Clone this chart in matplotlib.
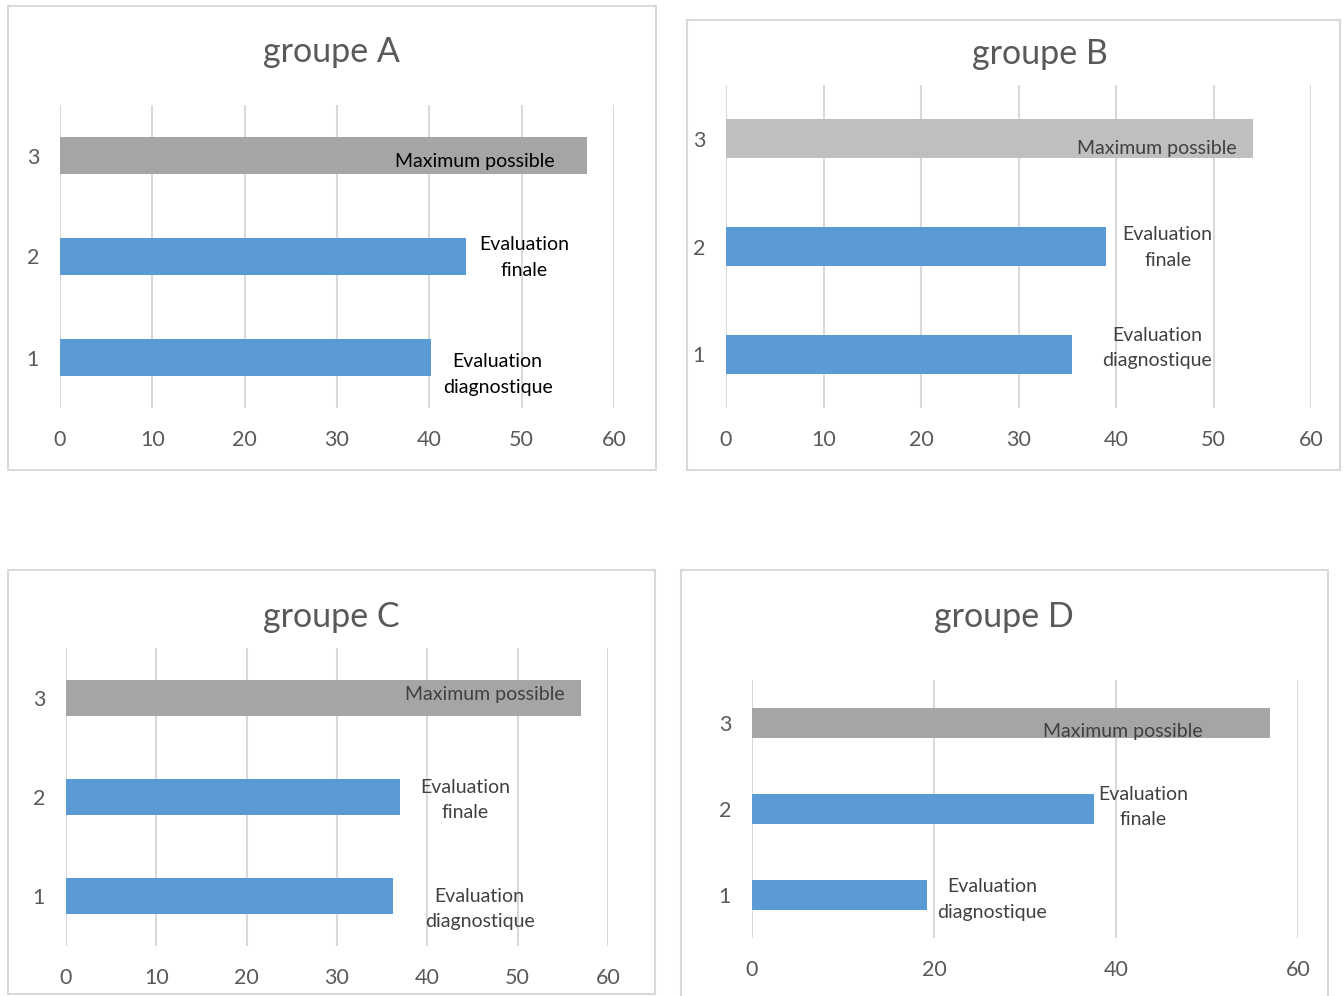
import matplotlib
matplotlib.use("Agg")
import matplotlib.pyplot as plt
from matplotlib.patches import Rectangle

plt.rcParams['font.family'] = ['Lato', 'DejaVu Sans']

W, H = 1344, 996

# data
categories = [1, 2, 3]
labels = ["Evaluation\ndiagnostique", "Evaluation\nfinale", "Maximum possible"]
titles = ["groupe A", "groupe B", "groupe C", "groupe D"]
vals_A = [40.2, 44.0, 57.1]
vals_B = [35.5, 39.0, 54.0]
vals_C = [36.2, 37.0, 57.0]
vals_D = [19.2, 37.6, 56.9]
ticks_A = [0, 10, 20, 30, 40, 50, 60]
ticks_D = [0, 20, 40, 60]

blue = '#5B9BD5'
greys = ['#A5A5A5', '#BFBFBF', '#A5A5A5', '#A5A5A5']
label_colors = ['black', '#404040', '#404040', '#404040']

# pixel layout: axes (left, right, top, bottom), border (x0, y0, x1, y1), title centre
axes_px = [(60, 614, 105, 408), (726, 1311, 85, 408),
           (66, 608, 648, 946), (752, 1298, 680, 938)]
border_px = [(8, 6, 656, 470), (687, 20, 1340, 470),
             (8, 570, 655, 994), (681, 570, 1328, 1000)]
title_px = [(331, 52), (1040, 54), (331, 617), (1004, 617)]
# data-label positions (x, y) for diag, finale, max
label_pos = [
    [(47.4, 0.83), (50.3, 1.99), (44.9, 2.94)],
    [(44.2, 1.06), (45.3, 1.99), (44.2, 2.91)],
    [(45.8, 0.87), (44.2, 1.97), (46.4, 3.03)],
    [(26.4, 0.95), (43.0, 2.02), (40.8, 2.90)],
]

fig = plt.figure(figsize=(W / 100, H / 100), dpi=100)
fig.patch.set_facecolor('white')

all_vals = [vals_A, vals_B, vals_C, vals_D]
for i in range(4):
    l, r, t, b = axes_px[i]
    ax = fig.add_axes([l / W, 1 - b / H, (r - l) / W, (b - t) / H])
    v = all_vals[i]
    cols = [blue, blue, greys[i]]
    ax.barh(categories, v, height=0.36, color=cols, zorder=3)
    ax.set_xlim(0, 60)
    ax.set_ylim(0.5, 3.5)
    ax.set_xticks(ticks_D if i == 3 else ticks_A)
    ax.set_yticks(categories)
    ax.grid(axis='x', color='#D9D9D9', linewidth=1.5, zorder=0)
    for s in ax.spines.values():
        s.set_visible(False)
    ax.tick_params(length=0, labelsize=15.5, labelcolor='#595959')
    ax.tick_params(axis='x', pad=16)
    ax.tick_params(axis='y', pad=15)
    for j in range(3):
        x, y = label_pos[i][j]
        ax.text(x, y, labels[j], ha='center', va='center', fontsize=14,
                color=label_colors[i], zorder=4, linespacing=1.6)
    # panel border
    x0, y0, x1, y1 = border_px[i]
    fig.patches.append(Rectangle((x0 / W, 1 - y1 / H), (x1 - x0) / W, (y1 - y0) / H,
                                 transform=fig.transFigure, fill=False,
                                 edgecolor='#D9D9D9', linewidth=1.5))
    tx, ty = title_px[i]
    fig.text(tx / W, 1 - ty / H, titles[i], ha='center', va='center',
             fontsize=24.5, color='#595959')

fig.savefig('out.png', dpi=100)
